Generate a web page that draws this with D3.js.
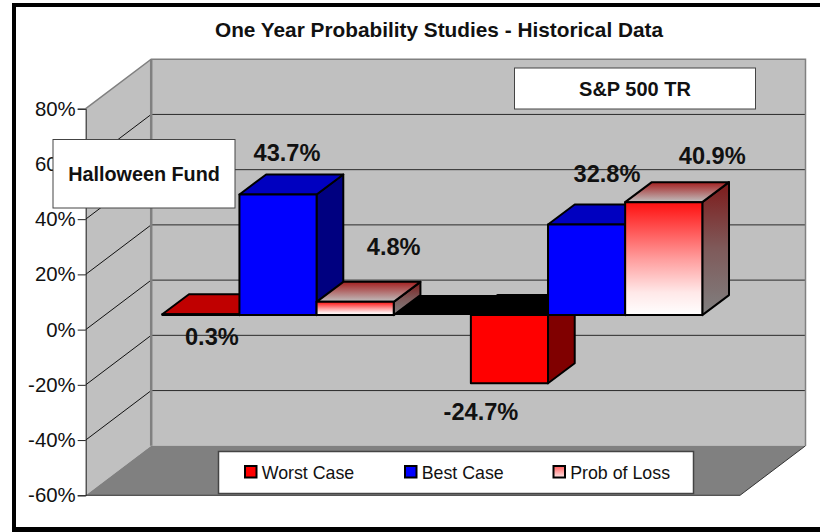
<!DOCTYPE html>
<html>
<head>
<meta charset="utf-8">
<script src="https://cdn.jsdelivr.net/npm/d3@7"></script>
<style>
  html, body { margin: 0; padding: 0; background: #fff; }
  svg { display: block; font-family: 'Liberation Sans', Arial, sans-serif; }
</style>
</head>
<body>
<svg id="chart" width="820" height="532"></svg>
<script>
// Values
const categories = ['Halloween Fund', 'S&P 500 TR'];
const seriesNames = ['Worst Case', 'Best Case', 'Prob of Loss'];
const worstCase = [0.3, -24.7];
const bestCase = [43.7, 32.8];
const probOfLoss = [4.8, 40.9];
const yTicks = [-60, -40, -20, 0, 20, 40, 60, 80];

// label offsets from the end of each bar, same order as the bars get drawn
const labelNudge = [[11, 31], [9, -33.4], [38.5, -47], [-28.5, 37], [20.4, -43], [48.5, -38]];

const svg = d3.select('#chart');

// 3d box settings
const wallDx = 65.5, wallDy = 49.5; // depth of the walls
const barDx = 26.7, barDy = 20;     // depth of a bar
const barShiftX = 19.3, barShiftY = 14.5; // where the bars sit inside the walls

const yScale = d3.scaleLinear().domain([-60, 80]).range([495.3, 108.7]);
const frontX = d3.scaleLinear().domain([0, 1]).range([85.7, 740]);

const catScale = d3.scaleBand()
  .domain(categories)
  .range([162.3, 702.3])
  .paddingInner(0.25)
  .paddingOuter(0);
const barScale = d3.scaleBand()
  .domain(seriesNames)
  .range([0, catScale.bandwidth()]);

// gradients for Prob of Loss
const defs = svg.append('defs');
function gradient(id, stops) {
  const g = defs.append('linearGradient').attr('id', id)
    .attr('x1', 0).attr('y1', 0).attr('x2', 0).attr('y2', 1);
  stops.forEach(s => g.append('stop').attr('offset', s[0]).attr('stop-color', s[1]));
}
gradient('lossFront', [[0, '#ff0f0f'], [0.5, '#ff9c9c'], [0.8, '#ffe8e8'], [1, '#ffffff']]);
gradient('lossTop', [[0, '#a52020'], [1, '#c0c0c0']]);
gradient('lossSide', [[0, '#7d1a1a'], [0.5, '#7f5a5a'], [1, '#808080']]);
gradient('lossKey', [[0, '#ff5a5a'], [1, '#ffe8e8']]);

const styles = {
  'Worst Case': { front: '#ff0000', top: '#c00000', side: '#800000', key: '#ff0000' },
  'Best Case': { front: '#0000ff', top: '#0000c0', side: '#000080', key: '#0000ff' },
  'Prob of Loss': { front: 'url(#lossFront)', top: 'url(#lossTop)', side: 'url(#lossSide)', key: 'url(#lossKey)' }
};

const poly = pts => 'M' + pts.map(p => p.join(',')).join('L') + 'Z';

// outer frame, open on the right side
svg.append('rect').attr('x', 12).attr('y', 3).attr('width', 808).attr('height', 4).attr('fill', '#000');
svg.append('rect').attr('x', 12).attr('y', 3).attr('width', 4).attr('height', 528).attr('fill', '#000');
svg.append('rect').attr('x', 12).attr('y', 527).attr('width', 808).attr('height', 5).attr('fill', '#000');

svg.append('text')
  .attr('x', 439).attr('y', 37.3)
  .attr('text-anchor', 'middle')
  .attr('font-size', 20.8).attr('font-weight', 'bold').attr('fill', '#111')
  .text('One Year Probability Studies - Historical Data');

// walls and floor
const x0 = frontX(0), x1 = frontX(1);
const yTop = yScale(80), yBot = yScale(-60);

svg.append('path')
  .attr('d', poly([[x0, yTop], [x0 + wallDx, yTop - wallDy], [x0 + wallDx, yBot - wallDy], [x0, yBot]]))
  .attr('fill', '#c0c0c0');
svg.append('rect')
  .attr('x', x0 + wallDx).attr('y', yTop - wallDy)
  .attr('width', x1 - x0).attr('height', yBot - yTop)
  .attr('fill', '#c0c0c0');
svg.append('path')
  .attr('d', poly([[x0, yBot], [x0 + wallDx, yBot - wallDy], [x1 + wallDx, yBot - wallDy], [x1, yBot]]))
  .attr('fill', '#808080');

// gridlines on both walls
const gridTicks = yTicks.filter(t => t > -60 && t < 80);
svg.selectAll('.grid-side').data(gridTicks).enter().append('line')
  .attr('x1', x0).attr('x2', x0 + wallDx)
  .attr('y1', d => yScale(d)).attr('y2', d => yScale(d) - wallDy)
  .attr('stroke', '#111').attr('stroke-width', 1);
svg.selectAll('.grid-back').data(gridTicks).enter().append('line')
  .attr('x1', x0 + wallDx).attr('x2', x1 + wallDx)
  .attr('y1', d => yScale(d) - wallDy).attr('y2', d => yScale(d) - wallDy)
  .attr('stroke', '#2a2a2a').attr('stroke-width', 1);

// wall edges
svg.append('path')
  .attr('d', `M${x0},${yTop}L${x0 + wallDx},${yTop - wallDy}L${x1 + wallDx},${yTop - wallDy}L${x1 + wallDx},${yBot - wallDy}`)
  .attr('fill', 'none').attr('stroke', '#808080').attr('stroke-width', 1.5);
svg.append('line')
  .attr('x1', x0 + wallDx).attr('x2', x0 + wallDx)
  .attr('y1', yTop - wallDy).attr('y2', yBot - wallDy)
  .attr('stroke', '#808080').attr('stroke-width', 2.5);
svg.append('path')
  .attr('d', `M${x1 + wallDx},${yBot - wallDy}L${x1},${yBot}L${x0},${yBot}`)
  .attr('fill', 'none').attr('stroke', '#333').attr('stroke-width', 1);

// y axis
const yAxis = d3.axisLeft(yScale)
  .tickValues(yTicks)
  .tickFormat(d => d + '%')
  .tickSize(8)
  .tickPadding(2);
const axisG = svg.append('g')
  .attr('transform', `translate(${x0},0)`)
  .call(yAxis);
axisG.select('.domain').attr('stroke', '#222').attr('stroke-width', 1);
axisG.selectAll('.tick line').attr('stroke', '#222');
axisG.selectAll('text')
  .attr('font-family', "'Liberation Sans', Arial, sans-serif")
  .attr('font-size', 20.4).attr('fill', '#111');

// flatten to one list of bars, drawn back to front in series order
const bars = [];
categories.forEach((cat, c) => {
  [worstCase[c], bestCase[c], probOfLoss[c]].forEach((value, s) => {
    bars.push({ cat, name: seriesNames[s], value });
  });
});
const barX = d => catScale(d.cat) + barScale(d.name);
const baseY = yScale(0) - barShiftY;
const barY = v => yScale(v) - barShiftY;

// black sheet at the zero plane between the two groups
const sheetLeft = catScale(categories[0]) + barScale('Prob of Loss') + barScale.bandwidth();
const sheetRight = catScale(categories[1]) + barScale('Worst Case') + barScale.bandwidth();
svg.append('path')
  .attr('d', poly([[sheetLeft, baseY], [sheetLeft + barDx, baseY - barDy], [sheetRight + barDx, baseY - barDy], [sheetRight, baseY]]))
  .attr('fill', '#000');

const w = barScale.bandwidth();
const barG = svg.selectAll('.bar').data(bars).enter().append('g').attr('class', 'bar')
  .attr('stroke', '#000').attr('stroke-width', 2).attr('stroke-linejoin', 'round');

// side face
barG.append('path')
  .attr('d', d => {
    const r = barX(d) + w, a = barY(Math.max(d.value, 0)), b = barY(Math.min(d.value, 0));
    return poly([[r, a], [r + barDx, a - barDy], [r + barDx, b - barDy], [r, b]]);
  })
  .attr('fill', d => styles[d.name].side);
// top face, black on the negative bar
barG.append('path')
  .attr('d', d => {
    const l = barX(d), a = barY(Math.max(d.value, 0));
    return poly([[l, a], [l + barDx, a - barDy], [l + w + barDx, a - barDy], [l + w, a]]);
  })
  .attr('fill', d => d.value < 0 ? '#000' : styles[d.name].top);
// front face
barG.append('rect')
  .attr('x', barX)
  .attr('y', d => barY(Math.max(d.value, 0)))
  .attr('width', w)
  .attr('height', d => Math.abs(barY(d.value) - baseY))
  .attr('fill', d => styles[d.name].front);

// data labels
svg.selectAll('.value').data(bars).enter().append('text')
  .attr('class', 'value')
  .attr('x', (d, i) => barX(d) + w / 2 + labelNudge[i][0])
  .attr('y', (d, i) => barY(d.value) + labelNudge[i][1])
  .attr('text-anchor', 'middle')
  .attr('font-size', 23.6).attr('font-weight', 'bold').attr('fill', '#111')
  .text(d => d.value.toFixed(1) + '%');

// the two name boxes
function nameBox(label, x, y, width, height, size) {
  svg.append('rect')
    .attr('x', x).attr('y', y).attr('width', width).attr('height', height)
    .attr('fill', '#fff').attr('stroke', '#444').attr('stroke-width', 1);
  svg.append('text')
    .attr('x', x + width / 2).attr('y', y + height / 2 + size * 0.35)
    .attr('text-anchor', 'middle')
    .attr('font-size', size).attr('font-weight', 'bold').attr('fill', '#111')
    .text(label);
}
nameBox(categories[0], 53, 139.5, 182, 68.5, 19.8);
nameBox(categories[1], 514.5, 68, 241, 41, 20);

// legend
const legendX = d3.scaleOrdinal()
  .domain(seriesNames)
  .range([245, 405, 553.5]);
svg.append('rect')
  .attr('x', 218.5).attr('y', 451.5).attr('width', 475).attr('height', 42)
  .attr('fill', '#fff').attr('stroke', '#444').attr('stroke-width', 1.5);
const keyG = svg.selectAll('.key').data(seriesNames).enter().append('g')
  .attr('class', 'key')
  .attr('transform', d => `translate(${legendX(d)},466)`);
keyG.append('rect')
  .attr('width', 11.5).attr('height', 11.5)
  .attr('fill', d => styles[d].key)
  .attr('stroke', '#000').attr('stroke-width', 2);
keyG.append('text')
  .attr('x', 16.7).attr('y', 13.3)
  .attr('font-size', 17.8).attr('fill', '#111')
  .text(d => d);
</script>
</body>
</html>
